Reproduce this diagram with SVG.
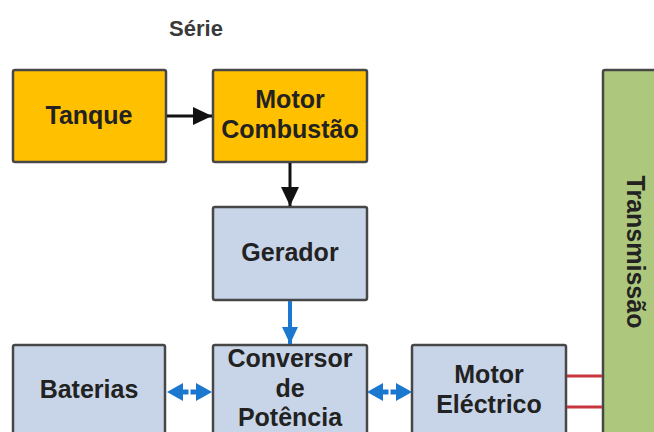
<svg xmlns="http://www.w3.org/2000/svg" width="654" height="432" viewBox="0 0 654 432">
<style>
text{font-family:"Liberation Sans",Arial,sans-serif;font-weight:bold;fill:#222;text-anchor:middle;font-size:25px}
.box{stroke:#474747;stroke-width:2.5}
.or{fill:#FFC000}
.bl{fill:#C8D5E8}
.gr{fill:#ADC87C}
.k{stroke:#111;stroke-width:3;fill:none}
.b{stroke:#1C78CF;stroke-width:4;fill:none}
.bf{fill:#1C78CF}
.r{stroke:#C8353F;stroke-width:3;fill:none}
</style>
<defs>
<marker id="ak" markerWidth="20" markerHeight="20" refX="19" refY="10" orient="auto" markerUnits="userSpaceOnUse"><path d="M0,1 L19,10 L0,19 Z" fill="#111"/></marker>
<marker id="ab" markerWidth="18" markerHeight="18" refX="17" refY="9" orient="auto" markerUnits="userSpaceOnUse"><path d="M0,1 L17,9 L0,17 Z" fill="#1C78CF"/></marker>
<path id="dbl" d="M0,0 L16,-9 L16,-2.5 L21.5,-2.5 L21.5,2.5 L16,2.5 L16,9 Z M45,0 L29,-9 L29,-2.5 L23.5,-2.5 L23.5,2.5 L29,2.5 L29,9 Z"/>
</defs>
<rect width="654" height="432" fill="#fff"/>
<text x="196" y="36" style="font-size:22px;fill:#3a3a3a">Série</text>
<g id="tanque"><rect class="box or" x="13" y="70" width="153" height="92" rx="2"/><text x="89" y="124">Tanque</text></g>
<g id="motor-combustao"><rect class="box or" x="213" y="70" width="154" height="92" rx="2"/><text x="290" y="108">Motor</text><text x="290" y="138">Combustão</text></g>
<g id="gerador"><rect class="box bl" x="213" y="207" width="154" height="93" rx="2"/><text x="290" y="261">Gerador</text></g>
<g id="baterias"><rect class="box bl" x="13" y="345" width="152" height="100" rx="2"/><text x="89" y="398">Baterias</text></g>
<g id="conversor"><rect class="box bl" x="213" y="345" width="154" height="100" rx="2"/><text x="290" y="367">Conversor</text><text x="290" y="397">de</text><text x="290" y="426">Potência</text></g>
<g id="motor-electrico"><rect class="box bl" x="412" y="345" width="154" height="100" rx="2"/><text x="489" y="383">Motor</text><text x="489" y="413">Eléctrico</text></g>
<g id="transmissao"><rect class="box gr" x="603" y="70" width="60" height="380" rx="2"/><text transform="translate(627,252) rotate(90)">Transmissão</text></g>
<g id="connectors">
<line class="k" x1="167" y1="116" x2="212" y2="116" marker-end="url(#ak)"/>
<line class="k" x1="290" y1="163" x2="290" y2="206" marker-end="url(#ak)"/>
<line class="b" x1="290" y1="301" x2="290" y2="344" marker-end="url(#ab)"/>
<use href="#dbl" class="bf" x="167" y="392"/>
<use href="#dbl" class="bf" x="367" y="392"/>
<line class="r" x1="567" y1="376" x2="602" y2="376"/>
<line class="r" x1="567" y1="407" x2="602" y2="407"/>
</g>
</svg>
